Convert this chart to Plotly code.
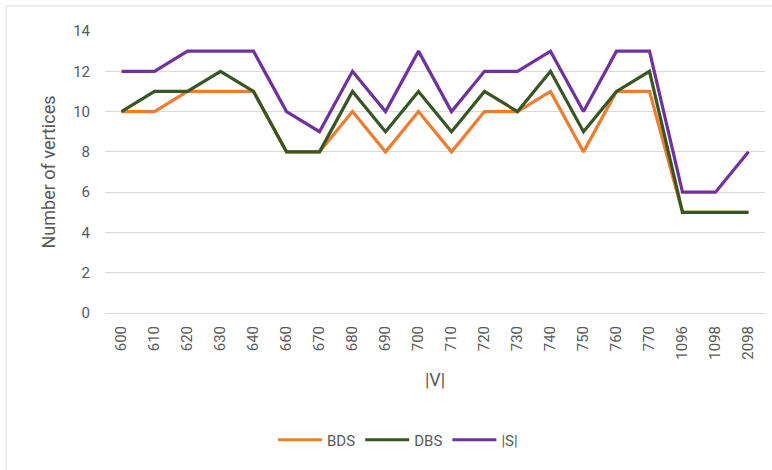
import plotly.graph_objects as go

categories = ["600", "610", "620", "630", "640", "660", "670", "680", "690", "700",
              "710", "720", "730", "740", "750", "760", "770", "1096", "1098", "2098"]
bds = [10, 10, 11, 11, 11, 8, 8, 10, 8, 10, 8, 10, 10, 11, 8, 11, 11, 5, 5, 5]
dbs = [10, 11, 11, 12, 11, 8, 8, 11, 9, 11, 9, 11, 10, 12, 9, 11, 12, 5, 5, 5]
s_vals = [12, 12, 13, 13, 13, 10, 9, 12, 10, 13, 10, 12, 12, 13, 10, 13, 13, 6, 6, 8]

series = [("BDS", bds, "#ED7D31"), ("DBS", dbs, "#375623"), ("|S|", s_vals, "#7030A0")]

font_family = "Roboto, sans-serif"
text_color = "#595959"

fig = go.Figure()
for name, vals, color in series:
    fig.add_trace(go.Scatter(x=categories, y=vals, name=name, mode="lines",
                             line=dict(color=color, width=3.2)))

L, R, T, B = 105, 7, 31, 157
W, H = 772, 470
pw = W - L - R
ph = H - T - B

fig.update_layout(
    width=W, height=H,
    margin=dict(l=L, r=R, t=T, b=B),
    paper_bgcolor="white", plot_bgcolor="white",
    font=dict(family=font_family, color=text_color, size=15),
    showlegend=True,
    legend=dict(orientation="h", x=(398 - L) / pw, xanchor="center",
                y=-(440 - (T + ph)) / ph, yanchor="middle",
                font=dict(size=15, color=text_color), itemwidth=44,
                traceorder="normal"),
    xaxis=dict(type="category", tickangle=-90, showgrid=False, showline=True,
               range=[-0.5, len(categories) - 0.5],
               linecolor="#D9D9D9", linewidth=1, ticks="", ticklabelstandoff=6,
               tickfont=dict(size=15, color=text_color),
               title=dict(text="|V|", font=dict(size=18, color=text_color), standoff=14)),
    yaxis=dict(range=[0, 14], dtick=2, showgrid=True, gridcolor="#D9D9D9", gridwidth=1,
               zeroline=False, ticks="", showline=False, ticklabelstandoff=14,
               tickfont=dict(size=15, color=text_color),
               title=dict(text="Number of vertices", font=dict(size=18, color=text_color), standoff=12)),
    shapes=[dict(type="rect", xref="paper", yref="paper",
                 x0=(6 - L) / pw, x1=1.2, y0=-1, y1=1 + (T - 6) / ph,
                 line=dict(color="#D9D9D9", width=1), layer="below")],
)

fig.write_html("out.html", config={"displayModeBar": False},
               post_script="document.body.style.margin='0';document.body.style.overflow='hidden';")
